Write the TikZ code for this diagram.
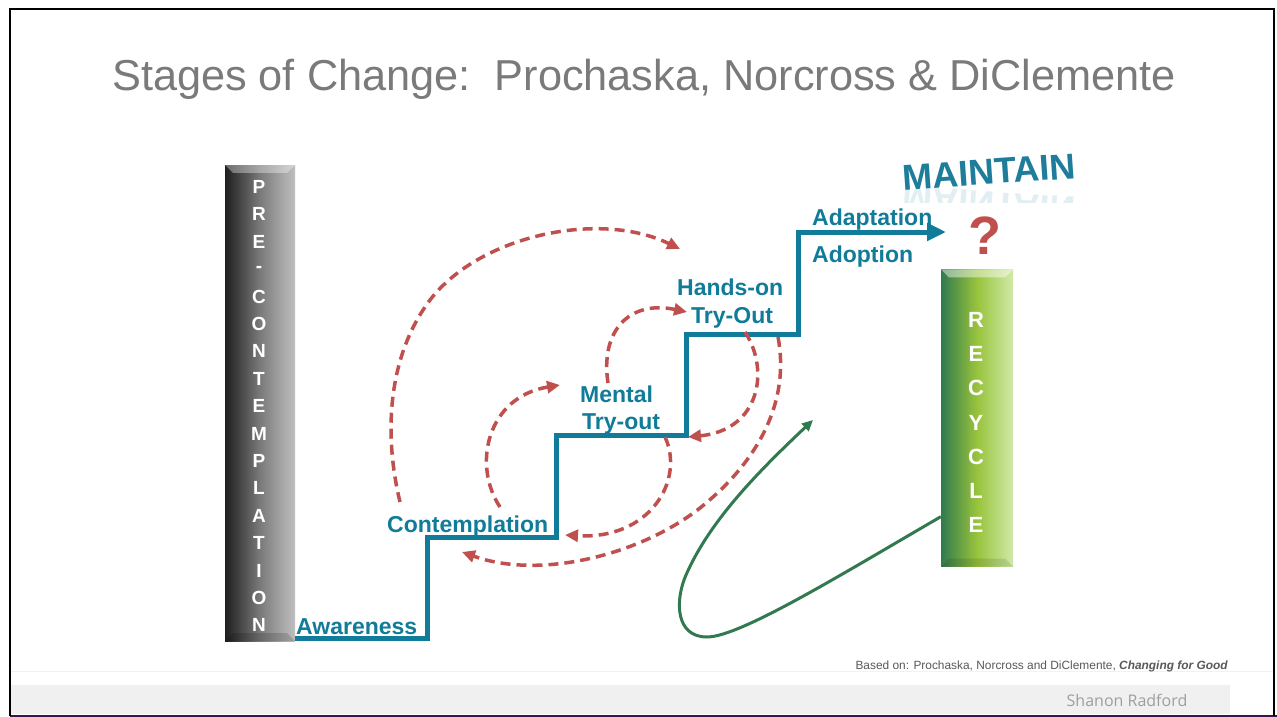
\documentclass[tikz,border=0pt]{standalone}
\usepackage{fontspec}
\setmainfont{Liberation Sans}
\newfontfamily\namefont{Open Sans}
\usetikzlibrary{arrows.meta,positioning}
\definecolor{stairteal}{RGB}{16,124,153}
\definecolor{loopred}{RGB}{192,80,77}
\definecolor{recgreen}{RGB}{49,122,79}
\definecolor{titlegray}{RGB}{122,122,122}
\definecolor{wordteal}{RGB}{30,125,155}
\definecolor{footline}{RGB}{52,24,74}
\tikzset{
  stage/.style={text=stairteal,font=\fontsize{23}{26}\selectfont\bfseries,inner sep=0pt,anchor=base west},
  relapse/.style={loopred,line width=3.5pt,dash pattern=on 10pt off 6pt,-{Triangle[length=13pt,width=12pt]}},
  barletter/.style={text=white,font=\fontsize{19}{20}\selectfont\bfseries,inner sep=0pt},
  bevel/.style={opacity=.35,fill=white}
}
\begin{document}
\begin{tikzpicture}[x=1pt,y=-1pt]
\useasboundingbox (0,0) rectangle (1277,717);
\fill[white] (0,0) rectangle (1277,717);
\fill[black!6] (10,685) rectangle (1230,714);
\draw[black!5,line width=1pt] (10,671) -- (1273,671);
\draw[footline,line width=2pt] (10,716) -- (1277,716);
\draw[black,line width=2pt] (10,716) -- (10,9) -- (1274,9) -- (1274,716);

\node[text=titlegray,font=\fontsize{43.3}{46}\selectfont,anchor=base] (title) at (644,90)
  {Stages of Change:\ \ Prochaska, Norcross \& DiClemente};

\node[minimum width=70pt,minimum height=476pt,inner sep=0pt,
  left color=black!88,right color=black!25,middle color=black!52] (precon) at (260,403) {};
\fill[bevel] (precon.north west) -- (precon.north east) -- ([shift={(-8pt,-8pt)}]precon.north east) -- ([shift={(8pt,-8pt)}]precon.north west) -- cycle;
\fill[black,opacity=.15] (precon.south west) -- (precon.south east) -- ([shift={(-8pt,8pt)}]precon.south east) -- ([shift={(8pt,8pt)}]precon.south west) -- cycle;
\foreach \ch [count=\i from 0] in {P,R,E,-,C,O,N,T,E,M,P,L,A,T,I,O,N}
  \node[barletter] (pc\i) at (259,{187+27.4*\i}) {\ch};

\node[minimum width=72pt,minimum height=297pt,inner sep=0pt,
  left color=recgreen,right color={rgb,255:red,208;green,234;blue,168},middle color={rgb,255:red,152;green,196;blue,60}] (recycle) at (977,418) {};
\fill[bevel,opacity=.45] (recycle.north west) -- (recycle.north east) -- ([shift={(-8pt,-8pt)}]recycle.north east) -- ([shift={(8pt,-8pt)}]recycle.north west) -- cycle;
\fill[black,opacity=.1] (recycle.south west) -- (recycle.south east) -- ([shift={(-8pt,8pt)}]recycle.south east) -- ([shift={(8pt,8pt)}]recycle.south west) -- cycle;
\foreach \ch [count=\i from 0] in {R,E,C,Y,C,L,E}
  \node[barletter,font=\fontsize{22}{24}\selectfont\bfseries] (rc\i) at (976,{320+34.2*\i}) {\ch};

\draw[stairteal,line width=5pt,-{Triangle[length=19pt,width=17pt]}]
  (295,638) -| (427,537) -| (556,435) -| (686,334) -| (798,232) -- (946,232);

\node[stage] (aware) at (296,634) {Awareness};
\node[stage] (contemp) at (387,532) {Contemplation};
\node[stage] (mental) at (580,402) {Mental};
\node[stage] (mentaltry) at (582,429) {Try-out};
\node[stage] (hands) at (677,295) {Hands-on};
\node[stage] (handstry) at (691,323) {Try-Out};
\node[stage] (adapt) at (812,225) {Adaptation};
\node[stage] (adopt) at (812,262) {Adoption};

\node[text=wordteal,font=\fontsize{36}{38}\selectfont\bfseries,rotate=4,inner sep=0pt] (maintain) at (989,172) {MAINTAIN};
\begin{scope}
\clip (890,188) rectangle (1090,202);
\node[text=wordteal,opacity=.13,font=\fontsize{36}{38}\selectfont\bfseries,rotate=-4,yscale=-1,inner sep=0pt] (mirror) at (989,204) {MAINTAIN};
\end{scope}
\node[text=loopred,font=\fontsize{54}{56}\selectfont\bfseries,inner sep=0pt,anchor=base] (query) at (985,254) {?};

\coordinate (r1s) at (400,502);
\coordinate (r1m) at (430,300);
\coordinate (r1e) at (680,249);
\coordinate (r2s) at (500,507);
\coordinate (r2e) at (560,385);
\coordinate (r3s) at (608,383);
\coordinate (r3e) at (687,312);
\coordinate (r4s) at (745,332);
\coordinate (r4e) at (688,437);
\coordinate (r5s) at (665,437);
\coordinate (r5e) at (565,535);
\coordinate (r6s) at (778,337);
\coordinate (r6m) at (700,508);
\coordinate (r6e) at (462,552);
\draw[relapse] (r1s) .. controls (385,440) and (385,360) .. (r1m) .. controls (480,235) and (600,210) .. (r1e);
\draw[relapse] (r2s) .. controls (472,465) and (487,397) .. (r2e);
\draw[relapse] (r3s) .. controls (600,330) and (630,300) .. (r3e);
\draw[relapse] (r4s) .. controls (770,370) and (760,430) .. (r4e);
\draw[relapse] (r5s) .. controls (685,480) and (650,540) .. (r5e);
\draw[relapse] (r6s) .. controls (790,400) and (760,460) .. (r6m) .. controls (640,555) and (540,580) .. (r6e);

\coordinate (low) at (707,637);
\coordinate (bend) at (686,575);
\coordinate (back) at (813,420);
\draw[recgreen,line width=3pt,-{Triangle[length=11pt,width=10pt]}]
  ([yshift=50pt]recycle.south west) .. controls (842,574) and (740,637) .. (low)
  .. controls (675,637) and (675,600) .. (bend)
  .. controls (710,520) and (760,470) .. (back);

\node[text=black!65,font=\fontsize{11.9}{13}\selectfont,anchor=base east,inner sep=0pt] (source) at (1228,669)
  {Based on: Prochaska, Norcross and DiClemente, \textbf{\textit{Changing for Good}}};
\node[text=black!38,font=\namefont\fontsize{16}{18}\selectfont,inner sep=0pt] (author) at (1127,700) {Shanon Radford};
\end{tikzpicture}
\end{document}
